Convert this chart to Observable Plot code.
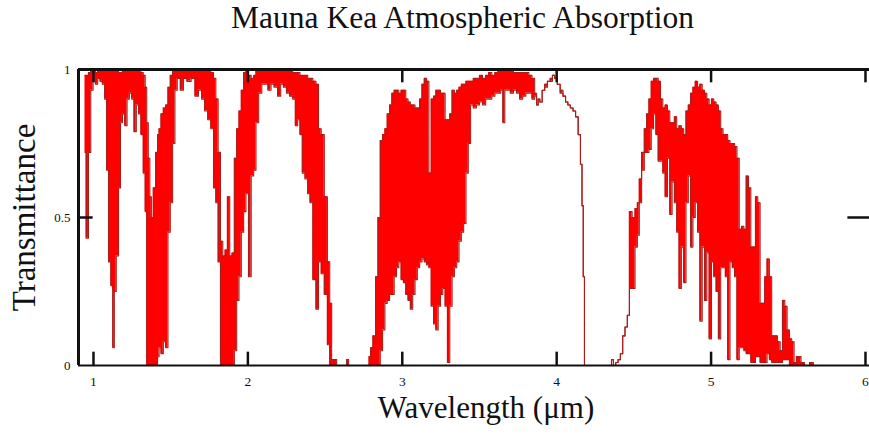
<!DOCTYPE html>
<html><head><meta charset="utf-8">
<script src="https://cdn.jsdelivr.net/npm/d3@7"></script>
<script src="https://cdn.jsdelivr.net/npm/@observablehq/plot@0.6"></script>
<style>
body{margin:0;background:#fff;width:869px;height:436px;overflow:hidden}
#title{height:48px;line-height:47px;font:31.5px "Liberation Serif","Times New Roman",serif;text-align:center;padding-left:56px;box-sizing:border-box;color:#111;white-space:nowrap}
</style></head><body>
<div id="title">Mauna Kea Atmospheric Absorption</div>
<div id="chart"></div>
<script>
// Wavelength samples (μm)
const wl = [
 0.945,0.96,0.975,0.99,1.005,1.02,1.035,1.05,1.065,1.08,
 1.09,1.105,1.12,1.13,1.14,1.155,1.17,1.18,1.195,1.21,
 1.225,1.24,1.255,1.27,1.285,1.30,1.315,1.33,1.34,1.35,
 1.36,1.37,1.38,1.395,1.41,1.42,1.43,1.445,1.46,1.475,
 1.49,1.505,1.52,1.535,
 1.55,1.575,1.59,1.62,1.645,1.67,1.69,1.71,1.73,1.75,
 1.77,1.785,1.80,1.815,1.83,1.845,1.86,1.875,1.89,1.905,
 1.92,1.935,1.95,1.965,1.98,1.995,2.013,2.03,2.045,2.06,
 2.08,2.10,
 2.12,2.14,2.16,2.18,2.205,2.22,2.24,2.26,2.28,2.30,
 2.315,2.33,2.345,2.36,2.38,2.395,2.41,2.432,2.45,2.465,
 2.485,2.505,2.525,2.535,2.55,2.60,2.635,2.645,2.66,2.78,
 2.79,2.80,2.82,2.835,2.85,2.865,2.88,2.895,2.91,2.925,
 2.94,2.955,2.97,2.985,3.00,3.015,3.03,3.045,3.06,3.075,
 3.09,3.105,3.12,3.135,3.15,3.165,3.18,3.195,3.21,3.225,
 3.24,3.255,3.27,3.285,3.30,3.315,3.33,3.345,3.36,3.375,
 3.39,3.405,3.42,3.435,3.45,
 3.47,3.49,3.51,3.53,3.55,3.57,3.59,3.61,3.63,3.645,
 3.658,3.67,3.69,3.71,3.73,3.75,3.77,3.79,3.81,3.83,
 3.85,
 3.865,3.875,3.885,3.897,3.915,3.93,3.95,3.965,3.98,3.995,
 4.013,4.032,4.05,4.065,4.08,4.097,4.115,4.13,4.148,4.16,
 4.168,4.176,4.184,4.35,4.36,4.375,4.39,4.405,4.42,4.435,
 4.45,4.465,
 4.477,4.50,4.515,4.53,4.54,4.56,4.575,4.59,4.605,4.62,
 4.635,4.65,4.665,4.68,4.695,4.71,4.725,4.74,4.755,4.77,
 4.785,4.80,4.815,4.83,4.845,4.86,4.875,4.89,4.905,4.92,
 4.935,4.95,4.965,4.98,4.995,5.01,5.025,5.04,5.055,5.07,
 5.085,5.10,5.115,5.13,5.145,5.16,5.175,5.19,5.205,5.22,
 5.235,5.25,5.265,5.28,5.295,5.31,5.325,5.34,5.355,5.37,
 5.385,5.40,5.42,5.44,5.455,5.47,5.485,5.50,5.515,5.53,
 5.545,5.56,5.575,5.59,5.62,5.655,5.67
];
// Upper envelope of the transmittance trace
const tHigh = [
 0.98,0.98,0.99,1,1,0.99,1,1,1,1,
 1,1,1,1,1,1,0.99,0.99,1,1,
 1,1,1,1,1,1,0.99,0.98,0.94,0.82,
 0.70,0.57,0.50,0.60,0.72,0.78,0.80,0.85,0.87,0.88,
 0.94,0.98,1,1,
 1,1,1,1,1,1,1,1,1,1,
 0.99,0.97,0.90,0.72,0.42,0.37,0.39,0.57,0.37,0.38,
 0.70,0.80,0.86,0.93,0.99,1,0.98,0.97,0.98,1,
 1,1,
 1,1,1,1,1,1,1,1,1,0.99,
 0.99,0.99,0.98,0.98,0.98,0.97,0.97,0.96,0.95,0.80,
 0.78,0.57,0.35,0.21,0.02,0,0,0.02,0,0,
 0.03,0.06,0.10,0.30,0.50,0.76,0.78,0.80,0.85,0.88,
 0.92,0.93,0.93,0.92,0.93,0.93,0.90,0.89,0.88,0.88,
 0.87,0.87,0.90,0.95,0.97,0.96,0.65,0.90,0.91,0.93,
 0.93,0.92,0.92,0.83,0.83,0.85,0.93,0.92,0.93,0.94,
 0.95,0.95,0.96,0.96,0.96,
 0.97,0.97,0.98,0.97,0.98,0.99,0.98,0.99,1,1,
 1,1,1,1,0.99,0.99,0.99,0.99,0.99,0.98,
 0.97,
 0.92,0.88,0.90,0.89,0.93,0.95,0.96,0.97,0.98,0.97,
 0.95,0.93,0.91,0.89,0.88,0.87,0.86,0.84,0.78,0.68,
 0.54,0.30,0,0,0.02,0,0.01,0.02,0.04,0.10,
 0.13,0.17,
 0.52,0.50,0.53,0.55,0.63,0.72,0.80,0.85,0.90,0.96,
 0.97,0.97,0.96,0.90,0.87,0.88,0.86,0.82,0.82,0.84,
 0.80,0.81,0.80,0.78,0.86,0.88,0.92,0.94,0.96,0.94,
 0.95,0.93,0.92,0.90,0.88,0.90,0.89,0.88,0.86,0.80,
 0.78,0.78,0.76,0.75,0.75,0.74,0.70,0.46,0.47,0.46,
 0.64,0.60,0.40,0.40,0.57,0.55,0.21,0.21,0.30,0.36,
 0.30,0.10,0.10,0.08,0.05,0.22,0.20,0.12,0.09,0.08,
 0.01,0.03,0.03,0.01,0,0.01,0
];
// Lower envelope of the transmittance trace
const tLow = [
 0.72,0.43,0.72,0.93,0.96,0.95,0.97,0.96,0.95,0.90,
 0.66,0.35,0.27,0.06,0.25,0.37,0.60,0.82,0.85,0.81,
 0.90,0.92,0.90,0.79,0.88,0.85,0.78,0.65,0.52,0,
 0,0,0,0,0,0.03,0.06,0.04,0.08,0.06,
 0.45,0.55,0.75,0.93,
 0.97,0.93,0.97,0.96,0.97,0.91,0.93,0.90,0.86,0.83,
 0.80,0.60,0.55,0.35,0,0,0,0,0,0,
 0.05,0.22,0.30,0.45,0.52,0.58,0.30,0.64,0.66,0.82,
 0.92,0.95,
 0.95,0.93,0.95,0.94,0.91,0.95,0.94,0.92,0.91,0.90,
 0.81,0.83,0.78,0.65,0.63,0.58,0.55,0.29,0.19,0.35,
 0.31,0.24,0.07,0,0,0,0,0,0,0,
 0,0,0,0,0,0.05,0.12,0.21,0.22,0.24,
 0.24,0.30,0.33,0.35,0.29,0.28,0.24,0.22,0.19,0.24,
 0.29,0.33,0.35,0.36,0.35,0.34,0.33,0.20,0.14,0.12,
 0.20,0.24,0.26,0.20,0.01,0.20,0.30,0.33,0.35,0.42,
 0.45,0.48,0.65,0.75,0.88,
 0.87,0.88,0.89,0.88,0.90,0.90,0.91,0.92,0.92,0.93,
 0.82,0.93,0.93,0.92,0.93,0.92,0.90,0.91,0.92,0.92,
 0.90,
 0.91,0.88,0.90,0.89,0.93,0.94,0.96,0.96,0.98,0.97,
 0.95,0.92,0.91,0.89,0.88,0.87,0.86,0.84,0.78,0.68,
 0.54,0.30,0,0,0.02,0,0.01,0.02,0.04,0.10,
 0.13,0.17,
 0.26,0.26,0.40,0.44,0.55,0.66,0.72,0.72,0.73,0.80,
 0.85,0.78,0.69,0.69,0.65,0.57,0.70,0.51,0.62,0.55,
 0.45,0.26,0.40,0.28,0.55,0.64,0.40,0.50,0.55,0.45,
 0.15,0.40,0.22,0.38,0.09,0.35,0.30,0.25,0.09,0.33,
 0.33,0.30,0.02,0.35,0.33,0.30,0.02,0.06,0.06,0.05,
 0.04,0.04,0.01,0.01,0.03,0.03,0.01,0.01,0.01,0.04,
 0.02,0.01,0.01,0.01,0.01,0.02,0.02,0.02,0,0,
 0,0,0,0,0,0,0
];
const xTicks = [1, 2, 3, 4, 5, 6];
const yTicks = [0, 0.5, 1];
const xLabel = "Wavelength (μm)";
const yLabel = "Transmittance";

const n = Math.min(wl.length, tHigh.length, tLow.length);
const data = d3.range(n).map(i => ({wl: wl[i], hi: tHigh[i], lo: tLow[i]}));

const xDomain = [0.903, 6.026];
const serif = '"Liberation Serif", "Times New Roman", serif';
const tickLenY = 0.045;   // inward tick length in y units
const tickLenXL = 0.095;  // left tick length in x units
const tickLenXR = 0.14;   // right tick length in x units

const chart = Plot.plot({
  width: 869, height: 388,
  marginTop: 21, marginBottom: 71, marginLeft: 78, marginRight: 0,
  x: {domain: xDomain},
  y: {domain: [0, 1]},
  style: {fontFamily: serif, background: "white", color: "#111"},
  marks: [
    Plot.areaY(data, {x: "wl", y1: "lo", y2: "hi", curve: "step", fill: "#ff0000"}),
    Plot.line(data, {x: "wl", y: "hi", curve: "step", stroke: "#a81e1a", strokeWidth: 1.1}),
    Plot.line(data, {x: "wl", y: "lo", curve: "step", stroke: "#a81e1a", strokeWidth: 1.1}),
    // frame
    Plot.ruleY([0], {stroke: "#111", strokeWidth: 2.2}),
    Plot.ruleY([1], {stroke: "#111", strokeWidth: 3}),
    Plot.ruleX([xDomain[0]], {y1: 0, y2: 1, stroke: "#111", strokeWidth: 3}),
    // inward ticks
    Plot.ruleX(xTicks, {y1: 0, y2: tickLenY, stroke: "#111", strokeWidth: 2.5}),
    Plot.ruleX(xTicks, {y1: 1 - tickLenY, y2: 1, stroke: "#111", strokeWidth: 2.5}),
    Plot.ruleY([0.5], {x1: xDomain[0], x2: xDomain[0] + tickLenXL, stroke: "#111", strokeWidth: 2.5}),
    Plot.ruleY([0.5], {x1: xDomain[1] - tickLenXR, x2: xDomain[1], stroke: "#111", strokeWidth: 2.5}),
    // axes labels
    Plot.axisX(xTicks, {tickSize: 0, tickPadding: 11, fontSize: 13.5, fontFamily: serif, label: null, tickFormat: d => String(d)}),
    Plot.axisY(yTicks, {tickSize: 0, tickPadding: 8, fontSize: 13, fontFamily: serif, label: null, tickFormat: d => String(d)}),
    Plot.text([xLabel], {frameAnchor: "bottom", dy: 52, dx: 12, fontSize: 31, fontFamily: serif, fill: "#111"}),
    Plot.text([yLabel], {frameAnchor: "left", textAnchor: "middle", dx: -54, rotate: -90, fontSize: 33, fontFamily: serif, fill: "#111"})
  ]
});
document.getElementById("chart").appendChild(chart);
</script>
</body></html>
